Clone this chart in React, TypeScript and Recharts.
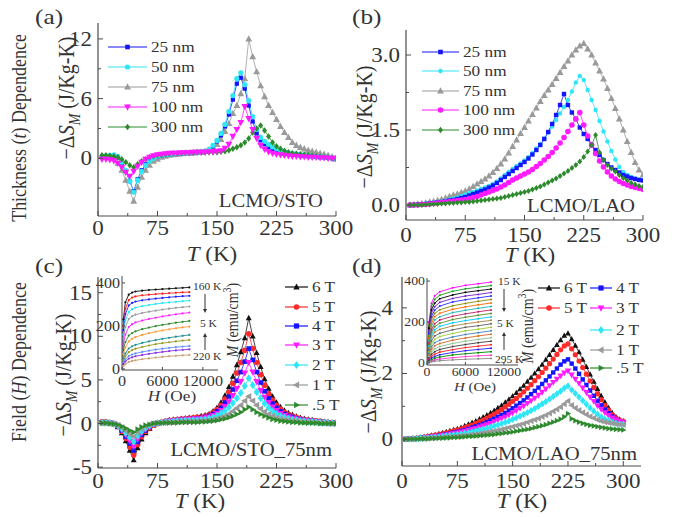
import { LineChart, Line, XAxis, YAxis } from "recharts";

const FONT = "'Liberation Serif', 'Times New Roman', serif";
const INK = "#333333";
const AX = "#4a4a4a";
const SX = 1.15;

const BLUE = "#1414ff";
const CYAN = "#2ee6f5";
const GREY = "#9a9a9a";
const MAGENTA = "#ff1aff";
const GREEN = "#2d8a2d";
const BLACK = "#111111";
const RED = "#ff2a2a";

// temperature grid (K) shared by the four main panels
const TEMPS = [
  5, 10, 15, 20, 25, 30, 35, 40, 45, 50, 55, 60, 65, 70, 75, 80, 85, 90, 95, 100,
  105, 110, 115, 120, 125, 130, 135, 140, 145, 150, 155, 160, 165, 170, 175, 180, 185, 190, 195, 200,
  205, 210, 215, 220, 225, 230, 235, 240, 245, 250, 255, 260, 265, 270, 275, 280, 285, 290, 295, 300,
];

// (a) LCMO/STO, thickness series
const A_25 = [
  0.1, 0.15, 0.2, 0.25, 0.1, -0.5, -1.3, -2.3, -3.3, -2.1,
  -1.2, -0.6, -0.2, 0.05, 0.2, 0.3, 0.35, 0.4, 0.45, 0.5,
  0.5, 0.55, 0.55, 0.6, 0.6, 0.65, 0.7, 0.85, 1.2, 1.7,
  2.3, 3.2, 4.4, 5.9, 7.5, 8.1, 7.0, 5.3, 3.7, 2.5,
  1.8, 1.4, 1.1, 0.9, 0.75, 0.6, 0.5, 0.45, 0.4, 0.35,
  0.3, 0.25, 0.2, 0.2, 0.15, 0.1, 0.1, 0.05, 0, 0,
];
const A_50 = [
  0.2, 0.25, 0.3, 0.35, 0.2, -0.4, -1.2, -2.3, -3.4, -2.2,
  -1.3, -0.7, -0.3, 0, 0.2, 0.3, 0.35, 0.4, 0.45, 0.5,
  0.5, 0.55, 0.55, 0.6, 0.6, 0.65, 0.7, 0.9, 1.3, 1.8,
  2.5, 3.4, 4.7, 6.3, 8.0, 8.6, 7.4, 5.8, 4.2, 2.9,
  2.1, 1.7, 1.4, 1.15, 0.95, 0.8, 0.65, 0.55, 0.5, 0.45,
  0.4, 0.35, 0.3, 0.25, 0.2, 0.2, 0.15, 0.1, 0.05, 0,
];
const A_75 = [
  0.2, 0.2, 0.1, 0, -0.5, -1.2, -2.2, -3.3, -4.3, -2.9,
  -1.9, -1.2, -0.7, -0.3, -0.1, 0.1, 0.2, 0.3, 0.35, 0.4,
  0.45, 0.5, 0.5, 0.55, 0.6, 0.6, 0.7, 0.85, 1.1, 1.4,
  1.9, 2.7, 3.5, 4.5, 5.3, 6.5, 8.0, 12.0, 10.2, 8.7,
  7.3, 6.2, 5.3, 4.6, 3.9, 3.2, 2.6, 2.1, 1.6, 1.3,
  1.1, 0.95, 0.8, 0.7, 0.6, 0.5, 0.4, 0.3, 0.15, -0.1,
];
const A_100 = [
  -0.1, -0.1, -0.15, -0.25, -0.5, -0.9, -1.4, -1.8, -1.3, -0.8,
  -0.4, -0.1, 0.1, 0.25, 0.35, 0.4, 0.45, 0.5, 0.5, 0.5,
  0.55, 0.55, 0.55, 0.6, 0.6, 0.6, 0.6, 0.65, 0.65, 0.7,
  0.75, 1.0, 1.4, 2.2, 2.9, 3.6, 5.2, 4.0, 2.9, 2.0,
  1.3, 0.9, 0.65, 0.5, 0.4, 0.35, 0.3, 0.25, 0.2, 0.2,
  0.15, 0.15, 0.1, 0.1, 0.1, 0.05, 0.05, 0, 0, 0,
];
const A_300 = [
  0.3, 0.3, 0.25, 0.2, 0.1, -0.1, -0.4, -0.7, -0.9, -0.6,
  -0.3, -0.1, 0.1, 0.2, 0.3, 0.35, 0.4, 0.45, 0.5, 0.5,
  0.5, 0.55, 0.55, 0.55, 0.6, 0.6, 0.6, 0.6, 0.6, 0.6,
  0.65, 0.7, 0.8, 0.95, 1.1, 1.3, 1.6, 2.0, 2.6, 3.0,
  3.3, 2.8, 2.2, 1.6, 1.2, 0.95, 0.75, 0.6, 0.5, 0.45,
  0.4, 0.35, 0.3, 0.25, 0.2, 0.15, 0.1, 0.05, 0, 0,
];

// (b) LCMO/LAO, thickness series
const B_25 = [
  0, 0, 0.01, 0.01, 0.02, 0.03, 0.04, 0.05, 0.06, 0.07,
  0.09, 0.1, 0.12, 0.14, 0.16, 0.19, 0.22, 0.25, 0.28, 0.31,
  0.35, 0.39, 0.44, 0.5, 0.56, 0.62, 0.68, 0.74, 0.8, 0.86,
  0.93, 1.01, 1.1, 1.2, 1.32, 1.46, 1.62, 1.8, 2.0, 2.22,
  2.0, 1.85, 1.72, 1.55, 1.42, 1.32, 1.2, 1.1, 1.0, 0.9,
  0.82, 0.75, 0.7, 0.65, 0.6, 0.57, 0.54, 0.52, 0.5, 0.49,
];
const B_50 = [
  0, 0, 0.01, 0.02, 0.03, 0.04, 0.05, 0.06, 0.07, 0.09,
  0.11, 0.13, 0.15, 0.18, 0.21, 0.24, 0.26, 0.29, 0.32, 0.35,
  0.38, 0.42, 0.47, 0.53, 0.6, 0.66, 0.72, 0.78, 0.83, 0.89,
  0.96, 1.04, 1.13, 1.22, 1.33, 1.45, 1.57, 1.7, 1.83, 1.96,
  2.1, 2.27, 2.45, 2.58, 2.5, 2.3, 2.1, 1.9, 1.68, 1.47,
  1.27, 1.08, 0.91, 0.76, 0.66, 0.6, 0.56, 0.53, 0.51, 0.5,
];
const B_75 = [
  0, 0.01, 0.02, 0.03, 0.04, 0.06, 0.07, 0.09, 0.11, 0.14,
  0.17, 0.2, 0.22, 0.25, 0.28, 0.32, 0.37, 0.42, 0.47, 0.52,
  0.58, 0.65, 0.73, 0.82, 0.92, 1.04, 1.17, 1.3, 1.43, 1.55,
  1.68, 1.81, 1.94, 2.07, 2.19, 2.3, 2.41, 2.53, 2.65, 2.77,
  2.88, 3.0, 3.1, 3.18, 3.23, 3.12, 3.0, 2.84, 2.68, 2.52,
  2.33, 2.13, 1.93, 1.72, 1.5, 1.27, 1.05, 0.85, 0.7, 0.6,
];
const B_100 = [
  0, 0, 0, 0.01, 0.01, 0.02, 0.03, 0.04, 0.05, 0.06,
  0.07, 0.08, 0.09, 0.1, 0.11, 0.13, 0.15, 0.17, 0.2, 0.23,
  0.26, 0.29, 0.32, 0.36, 0.4, 0.45, 0.5, 0.54, 0.58, 0.62,
  0.66, 0.71, 0.77, 0.83, 0.9, 0.97, 1.05, 1.14, 1.24, 1.35,
  1.47, 1.6, 1.72, 1.85, 1.6, 1.38, 1.2, 1.03, 0.88, 0.76,
  0.66, 0.58, 0.52, 0.47, 0.43, 0.4, 0.37, 0.35, 0.33, 0.31,
];
const B_300 = [
  0, 0, 0, 0, 0.01, 0.01, 0.02, 0.02, 0.03, 0.03,
  0.04, 0.04, 0.05, 0.05, 0.06, 0.06, 0.07, 0.08, 0.09, 0.1,
  0.11, 0.12, 0.13, 0.14, 0.16, 0.18, 0.2, 0.22, 0.24, 0.26,
  0.28, 0.31, 0.34, 0.37, 0.41, 0.45, 0.49, 0.53, 0.58, 0.63,
  0.68, 0.74, 0.8, 0.87, 0.96, 1.07, 1.2, 1.4, 1.05, 0.9,
  0.8, 0.73, 0.67, 0.6, 0.54, 0.49, 0.44, 0.41, 0.38, 0.36,
];

// (c) LCMO/STO_75nm, field series
const C_6 = [
  0.2, 0.2, 0.1, 0, -0.4, -1.1, -2.0, -3.1, -4.2, -2.8,
  -1.8, -1.1, -0.6, -0.2, 0, 0.2, 0.3, 0.4, 0.45, 0.5,
  0.55, 0.6, 0.65, 0.7, 0.75, 0.85, 0.95, 1.1, 1.4, 1.8,
  2.4, 3.2, 4.2, 5.4, 6.7, 8.2, 9.8, 12.1, 10.0, 8.1,
  6.5, 5.1, 4.0, 3.1, 2.4, 1.9, 1.5, 1.2, 1.0, 0.8,
  0.65, 0.55, 0.45, 0.4, 0.3, 0.25, 0.2, 0.15, 0.1, 0.1,
];
const C_5 = [
  0.2, 0.2, 0.1, 0, -0.3, -0.9, -1.7, -2.7, -3.6, -2.4,
  -1.5, -0.9, -0.5, -0.2, 0, 0.15, 0.25, 0.35, 0.4, 0.45,
  0.5, 0.55, 0.6, 0.65, 0.7, 0.75, 0.85, 1.0, 1.25, 1.6,
  2.1, 2.8, 3.6, 4.6, 5.8, 7.0, 8.4, 10.3, 8.6, 7.0,
  5.6, 4.4, 3.4, 2.7, 2.1, 1.65, 1.3, 1.05, 0.85, 0.7,
  0.55, 0.45, 0.4, 0.35, 0.3, 0.25, 0.2, 0.15, 0.1, 0.1,
];
const C_4 = [
  0.15, 0.15, 0.1, 0, -0.3, -0.8, -1.5, -2.3, -3.1, -2.1,
  -1.3, -0.8, -0.4, -0.15, 0, 0.1, 0.2, 0.3, 0.35, 0.4,
  0.45, 0.5, 0.5, 0.55, 0.6, 0.65, 0.75, 0.9, 1.1, 1.4,
  1.8, 2.4, 3.1, 3.9, 4.9, 5.9, 7.1, 8.6, 7.3, 5.9,
  4.7, 3.7, 2.9, 2.3, 1.8, 1.4, 1.1, 0.9, 0.75, 0.6,
  0.5, 0.4, 0.35, 0.3, 0.25, 0.2, 0.15, 0.1, 0.1, 0.05,
];
const C_3 = [
  0.1, 0.1, 0.05, -0.05, -0.3, -0.7, -1.3, -2.0, -2.6, -1.8,
  -1.1, -0.65, -0.35, -0.1, 0, 0.1, 0.15, 0.25, 0.3, 0.35,
  0.4, 0.4, 0.45, 0.5, 0.5, 0.55, 0.65, 0.75, 0.9, 1.15,
  1.5, 1.95, 2.5, 3.2, 4.0, 4.8, 5.8, 7.0, 5.9, 4.8,
  3.8, 3.0, 2.4, 1.9, 1.5, 1.15, 0.9, 0.75, 0.6, 0.5,
  0.4, 0.35, 0.3, 0.25, 0.2, 0.15, 0.1, 0.1, 0.05, 0.05,
];
const C_2 = [
  0.1, 0.1, 0.05, -0.05, -0.25, -0.6, -1.1, -1.6, -2.1, -1.4,
  -0.9, -0.5, -0.25, -0.05, 0.05, 0.1, 0.15, 0.2, 0.25, 0.3,
  0.3, 0.35, 0.35, 0.4, 0.4, 0.45, 0.5, 0.6, 0.7, 0.9,
  1.15, 1.45, 1.85, 2.35, 2.9, 3.5, 4.3, 5.2, 4.4, 3.6,
  2.9, 2.3, 1.8, 1.4, 1.1, 0.85, 0.7, 0.55, 0.45, 0.4,
  0.3, 0.25, 0.2, 0.2, 0.15, 0.1, 0.1, 0.05, 0.05, 0,
];
const C_1 = [
  0.05, 0.05, 0, -0.05, -0.2, -0.45, -0.8, -1.2, -1.5, -1.0,
  -0.6, -0.35, -0.15, 0, 0.05, 0.1, 0.1, 0.15, 0.15, 0.2,
  0.2, 0.2, 0.25, 0.25, 0.25, 0.3, 0.3, 0.35, 0.45, 0.55,
  0.7, 0.85, 1.1, 1.4, 1.75, 2.1, 2.6, 3.1, 2.6, 2.1,
  1.7, 1.35, 1.05, 0.85, 0.65, 0.5, 0.4, 0.35, 0.3, 0.25,
  0.2, 0.15, 0.15, 0.1, 0.1, 0.05, 0.05, 0, 0, 0,
];
const C_05 = [
  0.05, 0.05, 0, -0.05, -0.15, -0.3, -0.55, -0.8, -1.0, -0.65,
  -0.4, -0.2, -0.1, 0, 0.05, 0.05, 0.1, 0.1, 0.1, 0.1,
  0.15, 0.15, 0.15, 0.15, 0.15, 0.2, 0.2, 0.25, 0.3, 0.35,
  0.45, 0.55, 0.7, 0.85, 1.05, 1.3, 1.6, 1.9, 1.6, 1.3,
  1.05, 0.85, 0.65, 0.5, 0.4, 0.3, 0.25, 0.2, 0.15, 0.15,
  0.1, 0.1, 0.05, 0.05, 0.05, 0, 0, 0, 0, 0,
];

// (d) LCMO/LAO_75nm, field series
const D_6 = [
  0, 0.01, 0.02, 0.03, 0.05, 0.07, 0.09, 0.11, 0.13, 0.16,
  0.19, 0.22, 0.25, 0.28, 0.31, 0.35, 0.4, 0.45, 0.5, 0.55,
  0.61, 0.67, 0.73, 0.8, 0.87, 0.95, 1.03, 1.12, 1.21, 1.31,
  1.41, 1.52, 1.63, 1.75, 1.87, 2.0, 2.13, 2.27, 2.42, 2.57,
  2.72, 2.87, 3.02, 3.15, 3.22, 3.05, 2.85, 2.65, 2.42, 2.2,
  1.97, 1.75, 1.53, 1.32, 1.13, 0.95, 0.8, 0.68, 0.6, 0.55,
];
const D_5 = [
  0, 0.01, 0.02, 0.03, 0.04, 0.06, 0.08, 0.1, 0.12, 0.14,
  0.17, 0.19, 0.22, 0.25, 0.28, 0.31, 0.35, 0.39, 0.43, 0.48,
  0.53, 0.58, 0.64, 0.7, 0.76, 0.83, 0.9, 0.98, 1.06, 1.15,
  1.24, 1.34, 1.44, 1.55, 1.66, 1.78, 1.9, 2.03, 2.16, 2.3,
  2.44, 2.58, 2.72, 2.84, 2.9, 2.75, 2.57, 2.38, 2.18, 1.98,
  1.77, 1.57, 1.38, 1.2, 1.03, 0.88, 0.75, 0.65, 0.58, 0.54,
];
const D_4 = [
  0, 0.01, 0.01, 0.02, 0.03, 0.05, 0.06, 0.08, 0.09, 0.11,
  0.13, 0.15, 0.17, 0.2, 0.22, 0.25, 0.28, 0.31, 0.35, 0.39,
  0.43, 0.47, 0.52, 0.57, 0.62, 0.68, 0.74, 0.8, 0.87, 0.94,
  1.02, 1.1, 1.18, 1.27, 1.37, 1.47, 1.57, 1.68, 1.79, 1.91,
  2.03, 2.15, 2.27, 2.37, 2.43, 2.3, 2.15, 1.99, 1.82, 1.65,
  1.48, 1.32, 1.17, 1.03, 0.9, 0.79, 0.69, 0.61, 0.55, 0.5,
];
const D_3 = [
  0, 0, 0.01, 0.02, 0.03, 0.04, 0.05, 0.06, 0.08, 0.09,
  0.11, 0.13, 0.15, 0.17, 0.19, 0.21, 0.24, 0.27, 0.3, 0.33,
  0.37, 0.4, 0.44, 0.48, 0.53, 0.58, 0.63, 0.68, 0.74, 0.8,
  0.87, 0.94, 1.01, 1.09, 1.17, 1.25, 1.34, 1.43, 1.53, 1.63,
  1.73, 1.83, 1.93, 2.02, 2.08, 1.96, 1.83, 1.7, 1.56, 1.42,
  1.28, 1.15, 1.02, 0.91, 0.81, 0.72, 0.65, 0.59, 0.54, 0.5,
];
const D_2 = [
  0, 0, 0.01, 0.01, 0.02, 0.03, 0.04, 0.05, 0.06, 0.07,
  0.08, 0.1, 0.11, 0.13, 0.14, 0.16, 0.18, 0.2, 0.22, 0.25,
  0.28, 0.3, 0.33, 0.36, 0.4, 0.43, 0.47, 0.51, 0.55, 0.6,
  0.65, 0.7, 0.75, 0.81, 0.87, 0.93, 1.0, 1.07, 1.14, 1.22,
  1.3, 1.38, 1.46, 1.55, 1.62, 1.5, 1.39, 1.28, 1.17, 1.06,
  0.95, 0.85, 0.76, 0.68, 0.61, 0.56, 0.51, 0.48, 0.46, 0.45,
];
const D_1 = [
  0, 0, 0, 0.01, 0.01, 0.02, 0.02, 0.03, 0.04, 0.04,
  0.05, 0.06, 0.07, 0.08, 0.09, 0.1, 0.11, 0.12, 0.14, 0.15,
  0.17, 0.19, 0.21, 0.23, 0.25, 0.27, 0.29, 0.32, 0.35, 0.38,
  0.41, 0.44, 0.47, 0.51, 0.55, 0.59, 0.63, 0.68, 0.73, 0.79,
  0.85, 0.91, 0.98, 1.07, 1.16, 1.03, 0.95, 0.88, 0.81, 0.75,
  0.69, 0.64, 0.59, 0.55, 0.52, 0.5, 0.48, 0.46, 0.45, 0.44,
];
const D_05 = [
  0, 0, 0, 0, 0.01, 0.01, 0.01, 0.02, 0.02, 0.03,
  0.03, 0.04, 0.04, 0.05, 0.05, 0.06, 0.07, 0.08, 0.08, 0.09,
  0.1, 0.11, 0.12, 0.13, 0.14, 0.16, 0.17, 0.19, 0.2, 0.22,
  0.24, 0.26, 0.28, 0.3, 0.32, 0.35, 0.38, 0.41, 0.44, 0.48,
  0.52, 0.56, 0.61, 0.68, 0.78, 0.62, 0.56, 0.52, 0.48, 0.45,
  0.42, 0.4, 0.38, 0.36, 0.34, 0.32, 0.31, 0.3, 0.29, 0.28,
];

// inset (c): M(H) loops, 160 K ... 220 K
const H_C = [0, 200, 500, 1000, 1500, 2000, 3000, 4000, 5000, 6000, 7000, 8000, 9000, 10000];
const MC = [
  [0, 230, 310, 345, 355, 360, 364, 367, 369, 371, 373, 375, 377, 379],
  [0, 200, 280, 320, 332, 337, 342, 345, 348, 350, 352, 354, 356, 357],
  [0, 180, 255, 295, 307, 313, 319, 323, 327, 330, 333, 336, 338, 340],
  [0, 160, 225, 265, 278, 285, 292, 297, 302, 306, 309, 312, 315, 318],
  [0, 140, 195, 232, 245, 252, 260, 266, 271, 276, 280, 284, 287, 290],
  [0, 115, 160, 195, 208, 216, 225, 232, 238, 244, 249, 254, 258, 262],
  [0, 90, 125, 155, 167, 175, 185, 192, 199, 205, 210, 215, 219, 223],
  [0, 70, 100, 128, 140, 148, 158, 166, 173, 179, 184, 189, 193, 197],
  [0, 50, 72, 95, 105, 112, 121, 128, 134, 140, 145, 150, 154, 158],
  [0, 40, 58, 78, 87, 94, 102, 109, 115, 120, 124, 128, 132, 135],
  [0, 30, 44, 60, 67, 72, 79, 85, 90, 94, 98, 101, 104, 107],
  [0, 22, 34, 48, 54, 59, 65, 70, 75, 79, 83, 86, 89, 91],
  [0, 14, 22, 32, 37, 40, 45, 49, 53, 56, 59, 61, 63, 65],
];
const MC_COLORS = [
  "#111111", "#ff2020", "#2020ff", "#22e5f5", "#9a9a9a", "#ff20ff", "#2d8a2d",
  "#ff9933", "#1f8f8f", "#9a9a20", "#5f8fff", "#8a2be2", "#c8a070",
];

// inset (d): M(H) loops, 15 K ... 295 K
const H_D = [0, 300, 700, 1200, 2000, 4000, 6000, 8000, 10000];
const MD = [
  [0, 198, 292, 328, 348, 367, 379, 387, 395],
  [0, 185, 276, 310, 331, 350, 362, 370, 378],
  [0, 170, 260, 292, 314, 332, 345, 353, 361],
  [0, 158, 244, 275, 296, 315, 327, 335, 344],
  [0, 144, 226, 258, 278, 298, 309, 318, 327],
  [0, 133, 211, 242, 260, 279, 291, 301, 310],
  [0, 120, 193, 226, 243, 262, 274, 284, 293],
  [0, 110, 179, 210, 226, 246, 257, 267, 276],
  [0, 98, 163, 192, 210, 228, 240, 250, 259],
  [0, 90, 150, 177, 194, 212, 223, 233, 242],
  [0, 81, 137, 162, 179, 196, 207, 216, 225],
  [0, 73, 125, 150, 164, 181, 191, 200, 208],
  [0, 63, 109, 132, 145, 162, 174, 182, 191],
  [0, 54, 94, 115, 129, 144, 157, 165, 174],
  [0, 46, 80, 99, 111, 127, 139, 148, 157],
  [0, 38, 67, 84, 95, 111, 122, 132, 140],
  [0, 31, 55, 69, 80, 95, 106, 115, 123],
  [0, 24, 43, 55, 66, 80, 90, 99, 106],
  [0, 19, 33, 43, 53, 65, 75, 82, 89],
  [0, 13, 24, 32, 40, 51, 60, 66, 72],
  [0, 9, 16, 23, 29, 39, 45, 50, 55],
  [0, 5, 10, 15, 19, 26, 31, 35, 38],
  [0, 3, 6, 8, 11, 15, 18, 20, 22],
];
const MD_COLORS = [
  "#ff00ff", "#1a9a1a", "#000000", "#7a1fd0", "#2a2aff", "#8a8a00", "#ff6a00", "#20b0b0",
  "#c02060", "#5a8a2a", "#00c8ff", "#b08040", "#606060", "#9acd32", "#4682b4", "#d2691e",
  "#8fbc8f", "#404040", "#ff2020", "#1e1eff", "#008800", "#ff33cc", "#888888",
];

const T_TICKS = [0, 37.5, 75, 112.5, 150, 187.5, 225, 262.5, 300];
const T_LABELS = [0, 75, 150, 225, 300];

type Shape = "square" | "circle" | "up" | "down" | "diamond" | "left" | "right";
type Series = { key: string; color: string; shape: Shape; r: number; values: number[] };

function Marker({ shape, cx, cy, r, color }: { shape: Shape; cx: number; cy: number; r: number; color: string }) {
  switch (shape) {
    case "square":
      return <rect x={cx - r} y={cy - r} width={2 * r} height={2 * r} fill={color} />;
    case "circle":
      return <circle cx={cx} cy={cy} r={r} fill={color} />;
    case "up":
      return <polygon points={`${cx},${cy - 1.25 * r} ${cx + 1.15 * r},${cy + 0.85 * r} ${cx - 1.15 * r},${cy + 0.85 * r}`} fill={color} />;
    case "down":
      return <polygon points={`${cx},${cy + 1.25 * r} ${cx + 1.15 * r},${cy - 0.85 * r} ${cx - 1.15 * r},${cy - 0.85 * r}`} fill={color} />;
    case "left":
      return <polygon points={`${cx - 1.25 * r},${cy} ${cx + 0.85 * r},${cy - 1.15 * r} ${cx + 0.85 * r},${cy + 1.15 * r}`} fill={color} />;
    case "right":
      return <polygon points={`${cx + 1.25 * r},${cy} ${cx - 0.85 * r},${cy - 1.15 * r} ${cx - 0.85 * r},${cy + 1.15 * r}`} fill={color} />;
    default:
      return <polygon points={`${cx},${cy - 1.3 * r} ${cx + r},${cy} ${cx},${cy + 1.3 * r} ${cx - r},${cy}`} fill={color} />;
  }
}

const makeDot = (shape: Shape, color: string, r: number) => (p: any) => {
  const { cx, cy, index } = p;
  if (cx == null || cy == null) return <g key={`d${index}`} />;
  return <Marker key={`d${index}`} shape={shape} cx={cx} cy={cy} r={r} color={color} />;
};

function Txt({ x, y, fs, anchor = "start", rot = false, children }: any) {
  const tf = rot ? `translate(${x},${y}) rotate(-90) scale(1,${SX})` : `translate(${x},${y}) scale(${SX},1)`;
  return (
    <text transform={tf} textAnchor={anchor} fontSize={fs} fontFamily={FONT} fill={INK}>
      {children}
    </text>
  );
}

type TickOpt = { labels: number[]; show: boolean; fmt?: (v: number) => string; fs?: number; off?: number; len: number };

function tickFor(side: "bottom" | "top" | "left" | "right", o: TickOpt) {
  return (p: any) => {
    const { x, y, payload } = p;
    const v = payload.value as number;
    const major = o.labels.includes(v);
    const L = major ? o.len : o.len * 0.6;
    let ln;
    if (side === "bottom") ln = <line x1={x} x2={x} y1={y} y2={y - L} stroke={AX} />;
    else if (side === "top") ln = <line x1={x} x2={x} y1={y} y2={y + L} stroke={AX} />;
    else if (side === "left") ln = <line x1={x} x2={x + L} y1={y} y2={y} stroke={AX} />;
    else ln = <line x1={x} x2={x - L} y1={y} y2={y} stroke={AX} />;
    const fs = o.fs ?? 20;
    const s = o.fmt ? o.fmt(v) : String(v);
    return (
      <g>
        {ln}
        {o.show && major && side === "bottom" && (
          <Txt x={x} y={y + (o.off ?? 20)} fs={fs} anchor="middle">{s}</Txt>
        )}
        {o.show && major && side === "left" && (
          <Txt x={x - (o.off ?? 6)} y={y + fs * 0.35} fs={fs} anchor="end">{s}</Txt>
        )}
      </g>
    );
  };
}

type ChartProps = {
  box: [number, number, number, number];
  plot: [number, number, number, number];
  xs: number[];
  series: Series[];
  xDomain: [number, number];
  yDomain: [number, number];
  xTicks: number[];
  xLabels: number[];
  yTicks: number[];
  yLabels: number[];
  yFmt?: (v: number) => string;
  fs: number;
  xOff: number;
  yOff: number;
  len: number;
  lw: number;
  sw: number;
};

function Chart(c: ChartProps) {
  const [bl, bt, bw, bh] = c.box;
  const [x0, y0, x1, y1] = c.plot;
  const rows = c.xs.map((x, i) => {
    const row: Record<string, number> = { x };
    c.series.forEach((s) => (row[s.key] = s.values[i]));
    return row;
  });
  const axisLine = { stroke: AX, strokeWidth: c.lw };
  return (
    <div style={{ position: "absolute", left: bl, top: bt }}>
      <LineChart width={bw} height={bh} data={rows} margin={{ top: y0 - bt, right: bl + bw - x1, bottom: 0, left: 0 }}>
        <XAxis xAxisId="b" dataKey="x" type="number" domain={c.xDomain} allowDataOverflow ticks={c.xTicks} interval={0}
          height={bt + bh - y1} tickSize={0} tickMargin={0} tickLine={false} axisLine={axisLine}
          tick={tickFor("bottom", { labels: c.xLabels, show: true, fs: c.fs, off: c.xOff, len: c.len })} />
        <XAxis xAxisId="t" orientation="top" dataKey="x" type="number" domain={c.xDomain} allowDataOverflow ticks={c.xTicks} interval={0}
          height={0} tickSize={0} tickMargin={0} tickLine={false} axisLine={axisLine}
          tick={tickFor("top", { labels: c.xLabels, show: false, len: c.len })} />
        <YAxis yAxisId="l" type="number" domain={c.yDomain} allowDataOverflow ticks={c.yTicks} interval={0}
          width={x0 - bl} tickSize={0} tickMargin={0} tickLine={false} axisLine={axisLine}
          tick={tickFor("left", { labels: c.yLabels, show: true, fs: c.fs, off: c.yOff, len: c.len, fmt: c.yFmt })} />
        <YAxis yAxisId="r" orientation="right" type="number" domain={c.yDomain} allowDataOverflow ticks={c.yTicks} interval={0}
          width={0} tickSize={0} tickMargin={0} tickLine={false} axisLine={axisLine}
          tick={tickFor("right", { labels: c.yLabels, show: false, len: c.len })} />
        {c.series.map((s) => (
          <Line key={s.key} xAxisId="b" yAxisId="l" type="linear" dataKey={s.key} stroke={s.color} strokeWidth={c.sw}
            dot={makeDot(s.shape, s.color, s.r)} activeDot={false} isAnimationActive={false} />
        ))}
      </LineChart>
    </div>
  );
}

const seriesA: Series[] = [
  { key: "t75", color: GREY, shape: "up", r: 3, values: A_75 },
  { key: "t25", color: BLUE, shape: "square", r: 2.1, values: A_25 },
  { key: "t50", color: CYAN, shape: "circle", r: 2.6, values: A_50 },
  { key: "t300", color: GREEN, shape: "diamond", r: 2.5, values: A_300 },
  { key: "t100", color: MAGENTA, shape: "down", r: 3, values: A_100 },
];
const seriesB: Series[] = [
  { key: "t75", color: GREY, shape: "up", r: 3, values: B_75 },
  { key: "t50", color: CYAN, shape: "circle", r: 2.2, values: B_50 },
  { key: "t25", color: BLUE, shape: "square", r: 2.2, values: B_25 },
  { key: "t100", color: MAGENTA, shape: "circle", r: 2.8, values: B_100 },
  { key: "t300", color: GREEN, shape: "diamond", r: 2.4, values: B_300 },
];
const seriesC: Series[] = [
  { key: "h6", color: BLACK, shape: "up", r: 2.6, values: C_6 },
  { key: "h5", color: RED, shape: "circle", r: 2.8, values: C_5 },
  { key: "h4", color: BLUE, shape: "square", r: 2.3, values: C_4 },
  { key: "h3", color: MAGENTA, shape: "down", r: 3, values: C_3 },
  { key: "h2", color: CYAN, shape: "diamond", r: 3, values: C_2 },
  { key: "h1", color: GREY, shape: "left", r: 3, values: C_1 },
  { key: "h05", color: GREEN, shape: "right", r: 2.6, values: C_05 },
];
const seriesD: Series[] = [
  { key: "h6", color: BLACK, shape: "up", r: 2.5, values: D_6 },
  { key: "h5", color: RED, shape: "circle", r: 2.6, values: D_5 },
  { key: "h4", color: BLUE, shape: "square", r: 2.2, values: D_4 },
  { key: "h3", color: MAGENTA, shape: "down", r: 2.8, values: D_3 },
  { key: "h2", color: CYAN, shape: "diamond", r: 2.8, values: D_2 },
  { key: "h1", color: GREY, shape: "left", r: 2.8, values: D_1 },
  { key: "h05", color: GREEN, shape: "right", r: 2.5, values: D_05 },
];
const seriesIC: Series[] = MC.map((v, i) => ({ key: `m${i}`, color: MC_COLORS[i], shape: "circle", r: 1.1, values: v }));
const seriesID: Series[] = MD.map((v, i) => ({ key: `m${i}`, color: MD_COLORS[i], shape: "circle", r: 1, values: v }));

function LegendRow({ x0, x1, y, shape, color, r, label }: any) {
  return (
    <g>
      <line x1={x0} x2={x1} y1={y} y2={y} stroke={color} strokeWidth={1.2} />
      <Marker shape={shape} cx={(x0 + x1) / 2} cy={y} r={r} color={color} />
      <Txt x={x1 + 4} y={y + 5} fs={15}>{label}</Txt>
    </g>
  );
}

function DS({ x, y }: { x: number; y: number }) {
  return (
    <Txt x={x} y={y} fs={20} anchor="middle" rot>
      <tspan>−Δ</tspan>
      <tspan fontStyle="italic">S</tspan>
      <tspan fontStyle="italic" fontSize={14} dy={5}>M</tspan>
      <tspan dy={-5}>{"\u00a0(J/Kg-K)"}</tspan>
    </Txt>
  );
}

function TK({ x, y }: { x: number; y: number }) {
  return (
    <Txt x={x} y={y} fs={20} anchor="middle">
      <tspan fontStyle="italic">T</tspan>
      <tspan>{" (K)"}</tspan>
    </Txt>
  );
}

function MLabel({ x, y }: { x: number; y: number }) {
  return (
    <Txt x={x} y={y} fs={14} anchor="middle" rot>
      <tspan fontStyle="italic">M</tspan>
      <tspan>{" (emu/cm"}</tspan>
      <tspan fontSize={10} dy={-6}>3</tspan>
      <tspan dy={6}>)</tspan>
    </Txt>
  );
}

function HLabel({ x, y, fs }: { x: number; y: number; fs: number }) {
  return (
    <Txt x={x} y={y} fs={fs} anchor="middle">
      <tspan fontStyle="italic">H</tspan>
      <tspan>{" (Oe)"}</tspan>
    </Txt>
  );
}

function Arrow({ x, y0, y1 }: { x: number; y0: number; y1: number }) {
  const d = y1 > y0 ? 1 : -1;
  return (
    <g>
      <line x1={x} x2={x} y1={y0} y2={y1 - d * 3} stroke={INK} strokeWidth={1} />
      <polygon points={`${x},${y1} ${x - 2},${y1 - d * 4} ${x + 2},${y1 - d * 4}`} fill={INK} />
    </g>
  );
}

const legA = [
  { label: "25 nm", color: BLUE, shape: "square", r: 2.3 },
  { label: "50 nm", color: CYAN, shape: "circle", r: 2.6 },
  { label: "75 nm", color: GREY, shape: "up", r: 3 },
  { label: "100 nm", color: MAGENTA, shape: "down", r: 3 },
  { label: "300 nm", color: GREEN, shape: "diamond", r: 2.5 },
];
const legB = [
  { label: "25 nm", color: BLUE, shape: "square", r: 2.3 },
  { label: "50 nm", color: CYAN, shape: "circle", r: 2.2 },
  { label: "75 nm", color: GREY, shape: "up", r: 3 },
  { label: "100 nm", color: MAGENTA, shape: "circle", r: 2.8 },
  { label: "300 nm", color: GREEN, shape: "diamond", r: 2.5 },
];
const legC = [
  { label: "6 T", color: BLACK, shape: "up", r: 2.8 },
  { label: "5 T", color: RED, shape: "circle", r: 2.8 },
  { label: "4 T", color: BLUE, shape: "square", r: 2.6 },
  { label: "3 T", color: MAGENTA, shape: "down", r: 3 },
  { label: "2 T", color: CYAN, shape: "diamond", r: 3 },
  { label: "1 T", color: GREY, shape: "left", r: 3 },
  { label: ".5 T", color: GREEN, shape: "right", r: 2.8 },
];
const rowsA = [47, 67, 87, 107, 127];
const rowsB = [52, 71, 91, 110, 130];
const rowsC = [287, 307, 326, 345, 365, 385, 405];
const legD = [
  { x0: 538, y: 288, i: 0 },
  { x0: 538, y: 308, i: 1 },
  { x0: 590, y: 288, i: 2 },
  { x0: 590, y: 308, i: 3 },
  { x0: 590, y: 330, i: 4 },
  { x0: 590, y: 350, i: 5 },
  { x0: 590, y: 368, i: 6 },
];

export default function App() {
  const main = { fs: 20, len: 5, lw: 1.2, sw: 0.8 };
  return (
    <div style={{ position: "absolute", left: 0, top: 0, width: 685, height: 517, background: "#fff", overflow: "hidden" }}>
      <Chart {...main} box={[0, 0, 362, 260]} plot={[98, 23, 336, 216]} xs={TEMPS} series={seriesA}
        xDomain={[0, 300]} yDomain={[-5.8, 13.6]} xTicks={T_TICKS} xLabels={T_LABELS}
        yTicks={[-3, 0, 3, 6, 9, 12]} yLabels={[0, 6, 12]} xOff={19} yOff={6} />
      <Chart {...main} box={[345, 0, 340, 260]} plot={[406, 30, 643, 220]} xs={TEMPS} series={seriesB}
        xDomain={[0, 300]} yDomain={[-0.3, 3.5]} xTicks={T_TICKS} xLabels={T_LABELS}
        yTicks={[0, 0.75, 1.5, 2.25, 3]} yLabels={[0, 1.5, 3]} yFmt={(v) => v.toFixed(1)} xOff={22} yOff={6} />
      <Chart {...main} box={[0, 260, 362, 257]} plot={[98, 277, 336, 468]} xs={TEMPS} series={seriesC}
        xDomain={[0, 300]} yDomain={[-5.1, 16.8]} xTicks={T_TICKS} xLabels={T_LABELS}
        yTicks={[-5, -2.5, 0, 2.5, 5, 7.5, 10, 12.5, 15]} yLabels={[-5, 0, 5, 10, 15]} xOff={20} yOff={6} />
      <Chart {...main} box={[345, 260, 340, 257]} plot={[402, 277, 641, 466]} xs={TEMPS} series={seriesD}
        xDomain={[0, 324]} yDomain={[-0.82, 4.94]} xTicks={T_TICKS} xLabels={T_LABELS}
        yTicks={[0, 1, 2, 3, 4]} yLabels={[0, 2, 4]} xOff={22} yOff={9} />

      <Chart fs={14} len={3} lw={1} sw={0.9} box={[95, 270, 135, 130]} plot={[122, 276, 218, 370]} xs={H_C} series={seriesIC}
        xDomain={[0, 14250]} yDomain={[-5, 432]} xTicks={[0, 6000, 12000]} xLabels={[0, 6000, 12000]}
        yTicks={[0, 200, 400]} yLabels={[0, 200, 400]} xOff={16} yOff={2} />
      <Chart fs={12} len={3} lw={1} sw={0.9} box={[400, 270, 130, 120]} plot={[427, 278, 518, 365]} xs={H_D} series={seriesID}
        xDomain={[0, 14200]} yDomain={[-10, 415]} xTicks={[0, 6000, 12000]} xLabels={[0, 6000, 12000]}
        yTicks={[0, 200, 400]} yLabels={[0, 200, 400]} xOff={11} yOff={2} />

      <svg width={685} height={517} style={{ position: "absolute", left: 0, top: 0, pointerEvents: "none" }}>
        <Txt x={35} y={24} fs={22}>(a)</Txt>
        <Txt x={352} y={24} fs={22}>(b)</Txt>
        <Txt x={35} y={273} fs={22}>(c)</Txt>
        <Txt x={352} y={273} fs={22}>(d)</Txt>

        <Txt x={26} y={128} fs={18} anchor="middle" rot>
          <tspan>Thickness (</tspan><tspan fontStyle="italic">t</tspan><tspan>) Dependence</tspan>
        </Txt>
        <Txt x={26} y={362} fs={18} anchor="middle" rot>
          <tspan>Field (</tspan><tspan fontStyle="italic">H</tspan><tspan>) Dependence</tspan>
        </Txt>

        <DS x={74} y={98} />
        <DS x={372} y={127} />
        <DS x={71} y={375} />
        <DS x={376} y={372} />

        <TK x={212} y={261} />
        <TK x={530} y={262} />
        <TK x={200} y={508} />
        <TK x={522} y={508} />

        <Txt x={323} y={207} fs={18} anchor="end">LCMO/STO</Txt>
        <Txt x={635} y={212} fs={18} anchor="end">LCMO/LAO</Txt>
        <Txt x={332} y={456} fs={18} anchor="end">LCMO/STO_75nm</Txt>
        <Txt x={637} y={460} fs={18} anchor="end">LCMO/LAO_75nm</Txt>

        {legA.map((l, i) => (
          <LegendRow key={`a${i}`} x0={108} x1={147} y={rowsA[i]} {...l} />
        ))}
        {legB.map((l, i) => (
          <LegendRow key={`b${i}`} x0={422} x1={459} y={rowsB[i]} {...l} />
        ))}
        {legC.map((l, i) => (
          <LegendRow key={`c${i}`} x0={285} x1={308} y={rowsC[i]} {...l} />
        ))}
        {legD.map((p) => (
          <LegendRow key={`d${p.i}`} x0={p.x0} x1={p.x0 + 22} y={p.y} {...legC[p.i]} />
        ))}

        <HLabel x={172} y={401} fs={15} />
        <MLabel x={238} y={320} />
        <Txt x={193} y={290} fs={10}>160 K</Txt>
        <Arrow x={205} y0={294} y1={313} />
        <Txt x={200} y={327} fs={10}>5 K</Txt>
        <Arrow x={205} y0={350} y1={333} />
        <Txt x={193} y={360} fs={10}>220 K</Txt>

        <HLabel x={475} y={391} fs={13} />
        <MLabel x={533} y={326} />
        <Txt x={498} y={285} fs={10}>15 K</Txt>
        <Arrow x={504} y0={289} y1={312} />
        <Txt x={497} y={327} fs={10}>5 K</Txt>
        <Arrow x={504} y0={350} y1={332} />
        <Txt x={495} y={363} fs={10}>295 K</Txt>
      </svg>
    </div>
  );
}
